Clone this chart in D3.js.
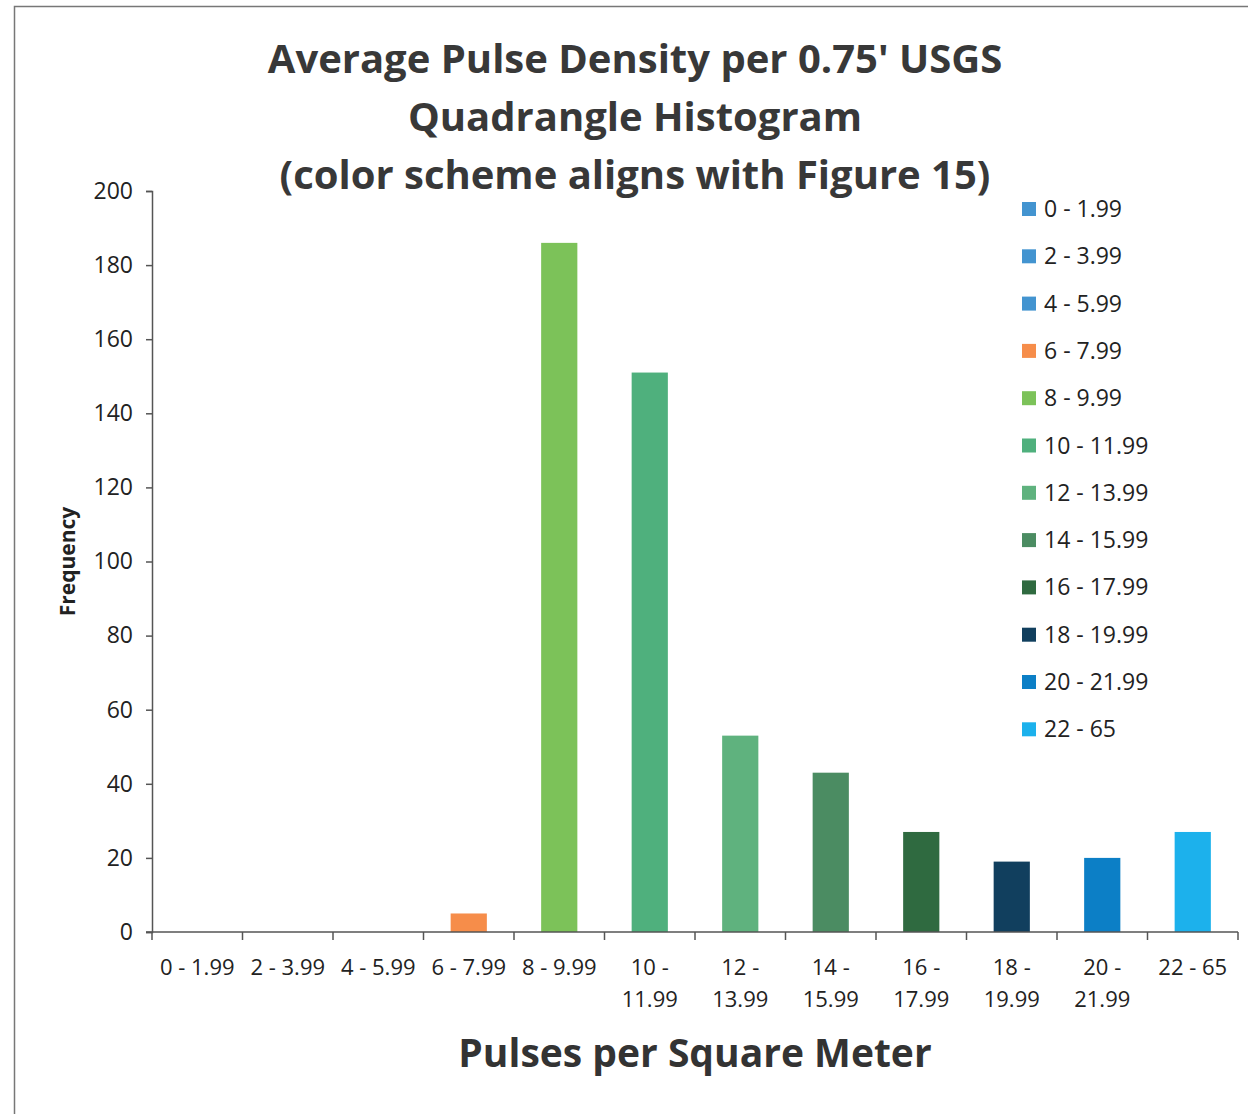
<!DOCTYPE html>
<html>
<head>
<meta charset="utf-8">
<script src="https://cdn.jsdelivr.net/npm/d3@7"></script>
<style>
  body { margin: 0; background: #fff; }
  text { font-family: "Open Sans", "Noto Sans", sans-serif; }
</style>
</head>
<body>
<script>
// bins and their counts
const categories = ["0 - 1.99", "2 - 3.99", "4 - 5.99", "6 - 7.99", "8 - 9.99", "10 - 11.99",
  "12 - 13.99", "14 - 15.99", "16 - 17.99", "18 - 19.99", "20 - 21.99", "22 - 65"];
const counts = [0, 0, 0, 5, 186, 151, 53, 43, 27, 19, 20, 27];
const colors = ["#4394d0", "#4394d0", "#4394d0", "#f68d4a", "#7cc259", "#4fb07d",
  "#5fb27e", "#4b8c62", "#2f6a40", "#113f5e", "#0c7fc6", "#1cb1ec"];
const yTicks = [0, 20, 40, 60, 80, 100, 120, 140, 160, 180, 200];
const titleLines = ["Average Pulse Density per 0.75' USGS", "Quadrangle Histogram", "(color scheme aligns with Figure 15)"];

const W = 1248, H = 1114;
let margin = {top: 191, right: 10, bottom: 182, left: 152},
  width = 1238 - margin.left,
  height = 932 - margin.top;

let svg = d3.select("body").append("svg")
  .attr("width", W)
  .attr("height", H);

// page frame
svg.append("path")
  .attr("d", "M14.5," + H + " V6.5 H" + W)
  .attr("fill", "none")
  .attr("stroke", "#777")
  .attr("stroke-width", 1.5);

let g = svg.append("g")
  .attr("transform", "translate(" + margin.left + "," + margin.top + ")");

let x = d3.scaleBand()
  .domain(categories)
  .range([0, width])
  .paddingInner(0.6)
  .paddingOuter(0.3);

let y = d3.scaleLinear()
  .domain([0, 200])
  .range([height, 0]);

// bars
g.selectAll("rect.bar")
  .data(categories)
  .enter()
  .append("rect")
  .attr("class", "bar")
  .attr("x", d => x(d))
  .attr("width", x.bandwidth())
  .attr("y", (d, i) => y(counts[i]))
  .attr("height", (d, i) => height - y(counts[i]))
  .attr("fill", (d, i) => colors[i]);

// y axis
let yAxis = g.append("g")
  .call(d3.axisLeft(y).tickValues(yTicks).tickSize(6).tickPadding(13));
yAxis.select(".domain").attr("stroke", "#555").attr("stroke-width", 1.5);
yAxis.selectAll(".tick line").attr("stroke", "#555").attr("stroke-width", 1.5);
yAxis.selectAll("text")
  .attr("font-size", 23)
  .attr("fill", "#222")
  .style("font-family", "Open Sans, sans-serif");

// x axis: ticks sit on band boundaries
let xAxis = g.append("g").attr("transform", "translate(0," + height + ")");
xAxis.append("line")
  .attr("x1", -6).attr("x2", width)
  .attr("stroke", "#555").attr("stroke-width", 1.5);
xAxis.selectAll("line.tk")
  .data(d3.range(categories.length + 1))
  .enter()
  .append("line")
  .attr("class", "tk")
  .attr("x1", i => i * width / categories.length)
  .attr("x2", i => i * width / categories.length)
  .attr("y1", 0).attr("y2", 8)
  .attr("stroke", "#555").attr("stroke-width", 1.5);

let lbl = xAxis.selectAll("text.xl")
  .data(categories)
  .enter()
  .append("text")
  .attr("class", "xl")
  .attr("x", d => x(d) + x.bandwidth() / 2)
  .attr("y", 43)
  .attr("text-anchor", "middle")
  .attr("font-size", 22)
  .attr("fill", "#222");
lbl.each(function(d) {
  let t = d3.select(this);
  let parts = d.split(" - ");
  if (+parts[0] >= 10 && parts[1].length > 2) {
    t.append("tspan").attr("x", t.attr("x")).text(parts[0] + " -");
    t.append("tspan").attr("x", t.attr("x")).attr("dy", 32).text(parts[1]);
  } else {
    t.text(d);
  }
});

// axis titles
svg.append("text")
  .attr("x", margin.left + width / 2)
  .attr("y", 1067)
  .attr("text-anchor", "middle")
  .attr("font-size", 39)
  .attr("font-weight", "bold")
  .attr("fill", "#333")
  .text("Pulses per Square Meter");

svg.append("text")
  .attr("transform", "translate(75," + (margin.top + height / 2) + ") rotate(-90)")
  .attr("text-anchor", "middle")
  .attr("font-size", 21)
  .attr("font-weight", "bold")
  .attr("fill", "#222")
  .text("Frequency");

// title
svg.selectAll("text.title")
  .data(titleLines)
  .enter()
  .append("text")
  .attr("class", "title")
  .attr("x", 635)
  .attr("y", (d, i) => 73 + i * 58)
  .attr("text-anchor", "middle")
  .attr("font-size", 40)
  .attr("font-weight", "bold")
  .attr("fill", "#383838")
  .text(d => d);

// legend
let legend = svg.append("g").attr("transform", "translate(1022,209)");
let rows = legend.selectAll("g")
  .data(categories)
  .enter()
  .append("g")
  .attr("transform", (d, i) => "translate(0," + i * 47.3 + ")");
rows.append("rect")
  .attr("x", 0).attr("y", -7)
  .attr("width", 14).attr("height", 14)
  .attr("fill", (d, i) => colors[i]);
rows.append("text")
  .attr("x", 22)
  .attr("y", 0)
  .attr("dy", "0.35em")
  .attr("font-size", 23)
  .attr("fill", "#222")
  .text(d => d);
</script>
</body>
</html>
